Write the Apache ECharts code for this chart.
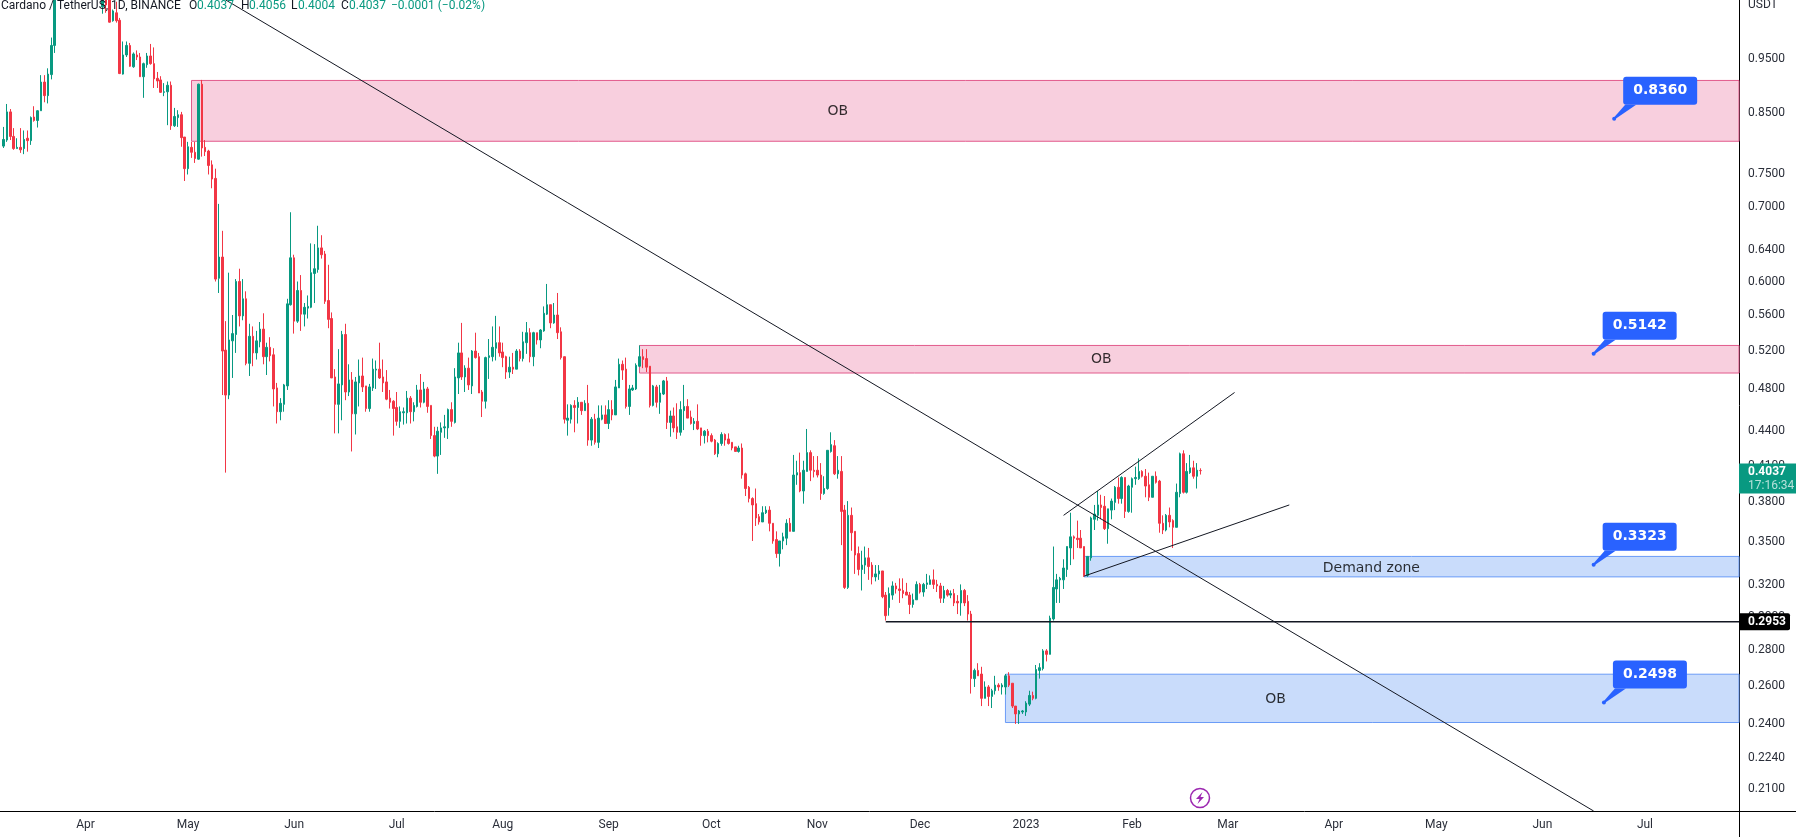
<!DOCTYPE html>
<html>
<head>
<meta charset="utf-8">
<title>ADAUSDT 1D</title>
<script src="https://cdn.jsdelivr.net/npm/echarts@6/dist/echarts.min.js"></script>
<style>
  html, body { margin: 0; padding: 0; background: #fff; }
  #chart { width: 1796px; height: 837px; }
</style>
</head>
<body>
<div id="chart"></div>
<script>
const DAY = 86400000
const day = (s) => Date.parse(s + 'T00:00:00Z')

const firstCandleDay = '2022-03-08'
const axisStart = day('2022-03-07')
const axisEnd = axisStart + 508.5 * DAY
const priceMin = 0.1996
const priceMax = 1.0689

const upColor = '#089981'
const downColor = '#f23645'
const inkColor = '#131722'

// daily candles [open, close, low, high], null = above the visible price range
const ohlc = [
  [.790,.801,.787,.822],[.800,.848,.797,.862],[.848,.806,.800,.853],[.806,.786,.784,.820],[.786,.788,.786,.803],
  [.788,.784,.779,.820],[.786,.801,.777,.816],[.803,.799,.781,.816],[.799,.838,.792,.840],[.839,.833,.831,.858],
  [.833,.850,.821,.851],[.850,.902,.850,.915],[.902,.877,.865,.915],[.877,.917,.863,.928],[.916,.973,.907,.989],
  [.973,1.10,.958,1.12],
  null,null,null,null,null,null,null,null,null,null,null,null,null,
  [1.054,1.08,1.039,1.10],[1.08,1.058,1.041,1.09],[1.07,1.021,1.020,1.09],[1.024,1.045,1.022,1.048],[1.041,1.024,1.020,1.065],
  [1.025,.918,.917,1.03],[.917,.954,.916,.981],[.954,.973,.950,.981],[.973,.932,.931,.978],[.931,.956,.929,.959],
  [.954,.950,.944,.963],[.950,.912,.912,.958],[.912,.937,.873,.939],[.935,.952,.929,.958],[.952,.937,.935,.976],
  [.937,.908,.891,.969],[.909,.904,.891,.921],[.906,.883,.882,.913],[.883,.884,.876,.900],[.884,.896,.825,.903],
  [.896,.824,.817,.903],[.824,.840,.822,.855],[.838,.843,.822,.851],[.843,.804,.789,.848],[.805,.754,.735,.805],
  [.754,.789,.745,.797],[.788,.780,.771,.797],[.780,.770,.763,.797],[.769,.898,.768,.899],[.898,.787,.773,.906],
  [.788,.781,.774,.800],[.782,.759,.745,.784],[.760,.738,.724,.767],[.739,.600,.597,.754],[.601,.628,.583,.701],
  [.628,.517,.472,.663],[.518,.472,.402,.550],[.472,.529,.468,.608],[.528,.536,.489,.557],[.535,.597,.515,.600],
  [.597,.556,.544,.613],[.556,.576,.551,.600],[.576,.504,.502,.585],[.504,.533,.491,.547],[.533,.515,.501,.544],
  [.515,.528,.508,.539],[.527,.541,.521,.549],[.541,.511,.503,.559],[.511,.521,.492,.526],[.521,.512,.506,.532],
  [.513,.478,.461,.520],[.479,.456,.445,.484],[.456,.464,.448,.469],[.463,.482,.456,.483],[.481,.570,.477,.576],
  [.569,.627,.568,.689],[.627,.550,.536,.631],[.550,.586,.548,.597],[.586,.558,.539,.605],[.558,.566,.544,.571],
  [.565,.567,.553,.580],[.566,.608,.565,.646],[.607,.613,.571,.645],[.612,.640,.608,.670],[.640,.631,.626,.657],
  [.632,.573,.570,.636],[.574,.552,.542,.618],[.553,.489,.489,.560],[.490,.463,.436,.498],[.463,.483,.436,.519],
  [.482,.535,.448,.539],[.535,.475,.467,.547],[.475,.487,.471,.503],[.487,.454,.420,.495],[.454,.485,.435,.490],
  [.484,.491,.461,.508],[.491,.480,.475,.510],[.481,.459,.456,.481],[.459,.480,.456,.483],[.479,.498,.476,.509],
  [.497,.498,.478,.507],[.498,.489,.488,.526],[.490,.484,.475,.508],[.485,.468,.467,.497],[.469,.465,.459,.477],
  [.466,.459,.434,.467],[.460,.447,.443,.475],[.447,.456,.441,.461],[.455,.456,.444,.460],[.455,.469,.445,.476],
  [.469,.456,.445,.471],[.456,.462,.447,.465],[.461,.477,.460,.482],[.477,.465,.460,.493],[.465,.478,.464,.485],
  [.478,.461,.455,.480],[.462,.434,.431,.462],[.434,.416,.415,.442],[.416,.438,.401,.442],[.437,.441,.417,.446],
  [.441,.442,.432,.453],[.441,.458,.431,.459],[.458,.447,.442,.465],[.446,.490,.445,.499],[.489,.515,.473,.526],
  [.515,.490,.487,.548],[.490,.499,.475,.502],[.499,.482,.477,.510],[.481,.517,.473,.518],[.517,.510,.509,.537],
  [.511,.474,.474,.515],[.475,.466,.451,.477],[.466,.510,.459,.511],[.510,.512,.488,.530],[.511,.521,.506,.544],
  [.520,.526,.507,.556],[.526,.515,.511,.544],[.516,.510,.500,.526],[.511,.495,.488,.512],[.495,.500,.489,.511],
  [.500,.498,.493,.515],[.498,.517,.498,.519],[.517,.509,.506,.519],[.509,.527,.506,.538],[.526,.537,.514,.549],
  [.537,.511,.505,.542],[.511,.537,.501,.538],[.537,.529,.524,.537],[.529,.540,.520,.541],[.539,.559,.538,.567],
  [.558,.569,.557,.594],[.569,.548,.542,.569],[.548,.557,.547,.571],[.557,.537,.530,.583],[.538,.510,.508,.543],
  [.511,.449,.445,.511],[.448,.450,.434,.463],[.449,.462,.445,.463],[.462,.460,.437,.467],[.460,.465,.445,.470],
  [.465,.457,.453,.465],[.457,.464,.457,.467],[.464,.430,.425,.482],[.430,.449,.425,.451],[.449,.428,.426,.454],
  [.428,.450,.423,.462],[.449,.453,.448,.462],[.453,.445,.445,.462],[.445,.458,.440,.467],[.458,.453,.448,.467],
  [.453,.480,.453,.487],[.479,.503,.479,.509],[.503,.497,.487,.507],[.498,.461,.459,.510],[.461,.478,.453,.482],
  [.477,.479,.476,.482],[.478,.502,.477,.504],[.501,.511,.500,.523],[.511,.508,.499,.519],[.509,.500,.495,.519],
  [.501,.462,.460,.501],[.462,.481,.461,.482],[.480,.465,.460,.482],[.465,.474,.454,.482],[.473,.486,.472,.487],
  [.486,.446,.440,.490],[.446,.452,.433,.457],[.452,.441,.437,.460],[.442,.437,.431,.464],[.437,.458,.434,.466],
  [.457,.461,.439,.482],[.461,.450,.450,.468],[.451,.445,.444,.457],[.445,.447,.439,.450],[.447,.440,.439,.463],
  [.441,.434,.425,.441],[.434,.438,.427,.439],[.438,.434,.428,.440],[.434,.429,.428,.436],[.430,.418,.417,.431],
  [.418,.427,.415,.428],[.427,.435,.425,.437],[.435,.430,.425,.436],[.431,.427,.426,.436],[.428,.423,.421,.428],
  [.424,.420,.420,.424],[.420,.423,.419,.425],[.423,.400,.397,.427],[.401,.389,.383,.402],[.390,.381,.378,.391],
  [.381,.376,.349,.382],[.377,.366,.360,.389],[.367,.363,.361,.369],[.363,.370,.363,.375],[.370,.372,.369,.375],
  [.372,.362,.356,.375],[.362,.349,.347,.362],[.350,.340,.337,.356],[.340,.349,.331,.349],[.349,.352,.343,.355],
  [.351,.362,.346,.365],[.362,.356,.356,.366],[.356,.400,.356,.417],[.400,.402,.392,.412],[.402,.387,.386,.419],
  [.387,.404,.377,.412],[.403,.419,.403,.440],[.419,.404,.395,.421],[.404,.403,.398,.416],[.404,.400,.398,.416],
  [.400,.385,.380,.410],[.385,.389,.384,.399],[.389,.421,.388,.421],[.420,.426,.419,.437],[.425,.401,.400,.430],
  [.401,.404,.397,.416],[.403,.371,.346,.416],[.372,.317,.316,.376],[.317,.368,.316,.379],[.368,.355,.342,.374],
  [.356,.339,.326,.356],[.340,.329,.325,.345],[.329,.332,.315,.342],[.332,.337,.326,.345],[.337,.331,.322,.344],
  [.332,.324,.319,.334],[.324,.326,.321,.332],[.326,.328,.322,.332],[.328,.311,.310,.328],[.312,.299,.296,.314],
  [.304,.313,.299,.317],[.312,.318,.309,.321],[.318,.316,.313,.320],[.316,.315,.307,.323],[.315,.313,.310,.323],
  [.314,.312,.312,.320],[.312,.306,.300,.314],[.306,.309,.304,.313],[.309,.319,.309,.321],[.319,.314,.313,.320],
  [.314,.319,.311,.320],[.319,.320,.316,.326],[.319,.322,.319,.325],[.322,.319,.316,.329],[.319,.318,.314,.322],
  [.318,.310,.307,.320],[.310,.315,.307,.318],[.315,.312,.311,.316],[.312,.313,.310,.315],[.313,.307,.305,.316],
  [.308,.307,.300,.312],[.307,.315,.299,.319],[.315,.307,.305,.316],[.308,.300,.296,.312],[.300,.2625,.2545,.302],
  [.2625,.267,.258,.268],[.267,.264,.264,.271],[.265,.252,.248,.269],[.252,.258,.252,.261],[.258,.253,.248,.259],
  [.253,.256,.247,.257],[.256,.259,.254,.264],[.259,.258,.256,.260],[.258,.259,.254,.260],[.258,.264,.254,.265],
  [.264,.259,.258,.266],[.260,.248,.247,.260],[.248,.244,.239,.248],[.244,.2455,.239,.246],[.245,.2455,.244,.246],
  [.245,.2495,.243,.2505],[.249,.2535,.248,.256],[.2535,.252,.251,.2555],[.252,.2675,.2515,.270],[.267,.2685,.2625,.271],
  [.268,.278,.267,.279],[.278,.276,.272,.279],[.276,.2975,.276,.299],[.297,.317,.296,.345],[.316,.322,.307,.326],
  [.322,.323,.307,.324],[.322,.330,.316,.336],[.329,.345,.324,.345],[.344,.352,.332,.370],[.352,.351,.336,.353],
  [.351,.350,.344,.364],[.351,.344,.344,.357],[.345,.325,.324,.345],[.325,.338,.324,.338],[.337,.366,.335,.367],
  [.365,.369,.357,.376],[.368,.376,.364,.387],[.376,.374,.365,.384],[.375,.358,.357,.383],[.358,.373,.347,.373],
  [.372,.379,.365,.381],[.378,.390,.372,.391],[.390,.381,.377,.398],[.381,.398,.377,.399],[.398,.371,.366,.398],
  [.371,.391,.370,.392],[.390,.397,.370,.398],[.397,.398,.392,.407],[.397,.403,.396,.414],[.403,.399,.398,.404],
  [.399,.391,.382,.405],[.392,.382,.379,.402],[.382,.399,.382,.399],[.399,.394,.393,.403],[.395,.362,.355,.396],
  [.362,.357,.354,.368],[.357,.368,.356,.369],[.368,.363,.359,.374],[.364,.359,.344,.365],[.359,.386,.359,.393],
  [.385,.418,.382,.419],[.418,.386,.385,.421],[.386,.403,.385,.410],[.402,.406,.401,.417],[.406,.399,.397,.412],
  [.399,.404,.389,.410],[.4037,.4037,.4004,.4056],
]

const priceTicks = [0.95, 0.85, 0.75, 0.7, 0.64, 0.6, 0.56, 0.52, 0.48, 0.44, 0.41, 0.38, 0.35, 0.32, 0.3, 0.28, 0.26, 0.24, 0.224, 0.21]
const monthTicks = ['2022-04-01', '2022-05-01', '2022-06-01', '2022-07-01', '2022-08-01', '2022-09-01', '2022-10-01', '2022-11-01', '2022-12-01', '2023-01-01', '2023-02-01', '2023-03-01', '2023-04-01', '2023-05-01', '2023-06-01', '2023-07-01']
const monthLabels = ['Apr', 'May', 'Jun', 'Jul', 'Aug', 'Sep', 'Oct', 'Nov', 'Dec', '2023', 'Feb', 'Mar', 'Apr', 'May', 'Jun', 'Jul']

// [start day, top price, bottom price]
const supplyZones = [['2022-05-02', 0.905, 0.798], ['2022-09-10', 0.523, 0.494]]
const demandZones = [['2023-01-18', 0.338, 0.324], ['2022-12-26', 0.2649, 0.2397]]
const zoneNotes = [['2022-11-07', 0.849, 'OB'], ['2023-01-23', 0.5085, 'OB'], ['2023-04-12', 0.3295, 'Demand zone'], ['2023-03-15', 0.2515, 'OB']]

const trendDown = [['2022-05-12', 1.069], ['2023-06-16', 0.1996]]
const wedgeUpper = [['2023-01-12', 0.368], ['2023-03-03', 0.4745]]
const wedgeLower = [['2023-01-18', 0.3245], ['2023-03-19', 0.376]]
const levelLine = [['2022-11-21', 0.2953], [null, 0.2953]]

const calloutDays = ['2023-06-22', '2023-06-16', '2023-06-16', '2023-06-19']
const calloutPrices = [0.836, 0.5142, 0.3323, 0.2498]

const lastPrice = 0.4037
const countdown = '17:16:34'
const levelPrice = 0.2953

const legendItems = [
  [1, 'Cardano / TetherUS, 1D, BINANCE', inkColor],
  [189, 'O', inkColor], [197, '0.4037', upColor],
  [241, 'H', inkColor], [249, '0.4056', upColor],
  [291, 'L', inkColor], [298, '0.4004', upColor],
  [341, 'C', inkColor], [349, '0.4037', upColor],
  [391, '−0.0001 (−0.02%)', upColor],
]

const fontFamily = 'Roboto, sans-serif'
const startMs = day(firstCandleDay)
const candleData = ohlc
  .map((c, i) => (c ? [startMs + i * DAY, ...c] : null))
  .filter(Boolean)
const monthTickValues = monthTicks.map(day)

function zoneArea(zones, fill, border) {
  return {
    silent: true,
    itemStyle: { color: fill, borderColor: border, borderWidth: 1 },
    data: zones.map((z) => [
      { xAxis: day(z[0]), yAxis: z[1] },
      { xAxis: axisEnd, yAxis: z[2] },
    ]),
  }
}

function trendSeries(points, width) {
  return {
    type: 'line',
    z: 5,
    silent: true,
    symbol: 'none',
    lineStyle: { color: inkColor, width },
    data: points.map((p) => [p[0] ? day(p[0]) : axisEnd, p[1]]),
  }
}

function drawCallout(params, api) {
  const p = api.coord([api.value(0), api.value(1)])
  const x = p[0]
  const y = p[1]
  const fill = '#2962ff'
  return {
    type: 'group',
    children: [
      { type: 'polygon', shape: { points: [[x, y - 1.5], [x + 11, y - 14], [x + 22, y - 14], [x + 1.5, y]] }, style: { fill } },
      { type: 'circle', shape: { cx: x, cy: y, r: 2 }, style: { fill } },
      { type: 'rect', shape: { x: x + 9, y: y - 42, width: 74, height: 28, r: 3 }, style: { fill } },
      {
        type: 'text',
        x: x + 46,
        y: y - 28,
        style: { text: api.value(1).toFixed(4), fill: '#fff', font: 'bold 14px "DejaVu Sans", sans-serif', align: 'center', verticalAlign: 'middle' },
      },
    ],
  }
}

function drawLastTag(params, api) {
  const p = api.coord([axisEnd, api.value(1)])
  const y = p[1]
  return {
    type: 'group',
    children: [
      { type: 'rect', shape: { x: p[0], y: y - 7, width: 57, height: 30 }, style: { fill: upColor } },
      { type: 'text', x: p[0] + 9, y: y + 1, style: { text: api.value(1).toFixed(4), fill: '#fff', font: 'bold 12px ' + fontFamily, verticalAlign: 'middle' } },
      { type: 'text', x: p[0] + 9, y: y + 15, style: { text: countdown, fill: 'rgba(255,255,255,0.7)', font: '12px ' + fontFamily, verticalAlign: 'middle' } },
    ],
  }
}

function drawLevelTag(params, api) {
  const p = api.coord([axisEnd, api.value(1)])
  const y = p[1]
  return {
    type: 'group',
    children: [
      { type: 'rect', shape: { x: p[0], y: y - 8.5, width: 51, height: 17, r: [0, 2, 2, 0] }, style: { fill: '#000' } },
      { type: 'text', x: p[0] + 9, y, style: { text: api.value(1).toFixed(4), fill: '#fff', font: 'bold 12px ' + fontFamily, verticalAlign: 'middle' } },
    ],
  }
}

const chart = echarts.init(document.getElementById('chart'))

chart.setOption({
  animation: false,
  backgroundColor: '#ffffff',
  textStyle: { fontFamily },
  grid: { left: 0, top: 0, width: 1739, height: 811, containLabel: false },
  xAxis: {
    type: 'value',
    min: axisStart,
    max: axisEnd,
    axisLine: { show: true, onZero: false, lineStyle: { color: '#000', width: 1 } },
    axisTick: { show: false },
    splitLine: { show: false },
    axisLabel: {
      customValues: monthTickValues,
      color: '#2a2e39',
      fontSize: 12,
      margin: 8,
      hideOverlap: false,
      formatter: (v) => monthLabels[monthTickValues.indexOf(+v)] || '',
    },
  },
  yAxis: {
    type: 'log',
    logBase: 10,
    position: 'right',
    min: priceMin,
    max: priceMax,
    axisLine: { show: true, onZero: false, lineStyle: { color: '#000', width: 1 } },
    axisTick: { show: false },
    splitLine: { show: false },
    minorTick: { show: false },
    axisLabel: {
      customValues: priceTicks,
      color: '#2a2e39',
      fontSize: 12,
      margin: 9,
      hideOverlap: false,
      verticalAlign: 'top',
      lineHeight: 5,
      formatter: (v) => Number(v).toFixed(4),
    },
  },
  graphic: [
    { type: 'line', shape: { x1: 1739, y1: 811.5, x2: 1796, y2: 811.5 }, style: { stroke: '#000', lineWidth: 1 } },
    { type: 'line', shape: { x1: 1739.5, y1: 811, x2: 1739.5, y2: 837 }, style: { stroke: '#000', lineWidth: 1 } },
    { type: 'text', x: 1748, y: 5, z: 10, style: { text: 'USDT', fill: '#2a2e39', font: '12px ' + fontFamily, verticalAlign: 'middle' } },
    ...legendItems.map((it) => ({
      type: 'text',
      x: it[0],
      y: 6,
      z: 10,
      style: { text: it[1], fill: it[2], font: '12px ' + fontFamily, verticalAlign: 'middle' },
    })),
    { type: 'circle', shape: { cx: 1200, cy: 798, r: 9.5 }, z: 10, style: { fill: '#fff', stroke: '#9c27b0', lineWidth: 1.5 } },
    {
      type: 'polygon',
      z: 11,
      shape: { points: [[1202.5, 792], [1196, 799], [1199.5, 799], [1197.5, 804], [1204, 797], [1200.5, 797]] },
      style: { fill: '#9c27b0' },
    },
  ],
  series: [
    { type: 'line', z: 1, silent: true, symbol: 'none', data: [], markArea: zoneArea(supplyZones, '#f8cfde', '#e25a8c') },
    { type: 'line', z: 1, silent: true, symbol: 'none', data: [], markArea: zoneArea(demandZones, '#c9dcfb', '#6b9cf7') },
    {
      type: 'candlestick',
      z: 3,
      silent: true,
      barWidth: 2,
      itemStyle: {
        color: upColor,
        color0: downColor,
        borderColor: upColor,
        borderColor0: downColor,
        borderWidth: 1,
      },
      data: candleData,
    },
    trendSeries(trendDown, 1),
    trendSeries(wedgeUpper, 1),
    trendSeries(wedgeLower, 1),
    trendSeries(levelLine, 1.5),
    {
      type: 'scatter',
      z: 6,
      silent: true,
      symbolSize: 0,
      label: {
        show: true,
        position: 'inside',
        color: '#000',
        fontSize: 14,
        fontFamily: '"DejaVu Sans", sans-serif',
        formatter: (p) => p.data[2],
      },
      data: zoneNotes.map((n) => [day(n[0]), n[1], n[2]]),
    },
    {
      type: 'custom',
      z: 7,
      silent: true,
      renderItem: drawCallout,
      encode: { x: 0, y: 1 },
      data: calloutDays.map((d, i) => [day(d), calloutPrices[i]]),
    },
    {
      type: 'custom',
      z: 8,
      silent: true,
      renderItem: drawLastTag,
      encode: { x: 0, y: 1 },
      data: [[axisEnd, lastPrice]],
    },
    {
      type: 'custom',
      z: 8,
      silent: true,
      renderItem: drawLevelTag,
      encode: { x: 0, y: 1 },
      data: [[axisEnd, levelPrice]],
    },
  ],
})
</script>
</body>
</html>
